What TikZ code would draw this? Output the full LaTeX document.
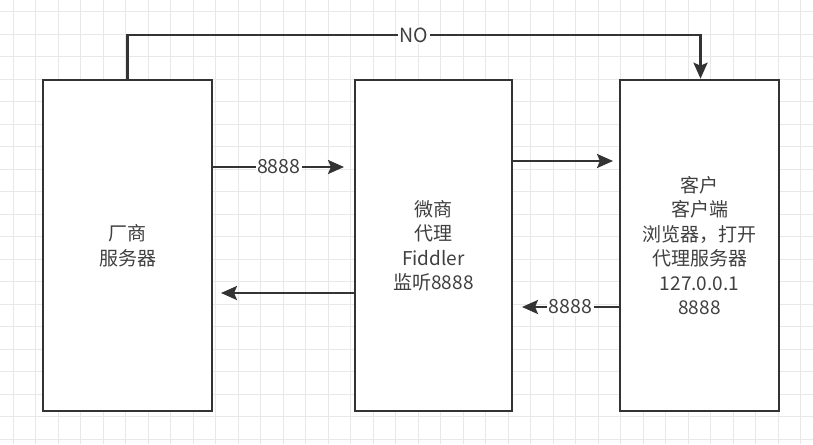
\documentclass[tikz,border=0pt]{standalone}
\usepackage{fontspec}
\setmainfont{Noto Sans CJK SC}
\usetikzlibrary{arrows.meta}
\definecolor{ink}{HTML}{333333}
\definecolor{txt}{HTML}{404040}
\definecolor{gridc}{HTML}{E8E8E8}
\tikzset{
  box/.style={draw=ink, line width=2.6pt, fill=white, minimum width=#1, minimum height=331pt,
    inner sep=0pt, align=center, text=txt, font=\fontsize{19}{24.5}\selectfont},
  conn/.style={draw=ink, line width=2.6pt},
  tip/.style={-{Stealth[length=16pt,width=14pt,inset=3pt]}},
  lbl/.style={fill=white, text=txt, inner sep=1.5pt, font=\fontsize{19.5}{22}\selectfont}
}
\begin{document}
\begin{tikzpicture}[x=1pt,y=-1pt]
\useasboundingbox (0,0) rectangle (813,444);
\fill[white] (0,0) rectangle (813,444);
% grid
\foreach \i in {0,...,35} {\draw[gridc, line width=0.8pt] ({13+22.5*\i},0) -- ({13+22.5*\i},444);}
\foreach \j in {0,...,19} {\draw[gridc, line width=0.8pt] (0,{11.5+22.5*\j}) -- (813,{11.5+22.5*\j});}
% boxes
\node[box=169pt] (L) at (127.5,245.5) {厂商\\服务器};
\node[box=157pt] (M) at (433.5,245.5) {微商\\代理\\Fiddler\\监听8888};
\node[box=159pt] (R) at (699.5,245.5) {客户\\客户端\\浏览器，打开\\代理服务器\\127.0.0.1\\8888};
% coordinates
\coordinate (c1) at (127.5,35);
\coordinate (c2) at (700.5,35);
\coordinate (p1) at (344,167);
\coordinate (p2) at (613,161);
\coordinate (p3) at (221,293);
\coordinate (p4) at (522,307);
% connectors
\draw[conn,tip] (L.north) -- (c1) -- node[lbl]{NO} (c2) -- (c2 |- R.north);
\draw[conn,tip] (L.east |- p1) -- node[lbl]{8888} (p1);
\draw[conn,tip] (M.east |- p2) -- (p2);
\draw[conn,tip] (M.west |- p3) -- (p3);
\draw[conn,tip] (R.west |- p4) -- node[lbl]{8888} (p4);
\end{tikzpicture}
\end{document}
